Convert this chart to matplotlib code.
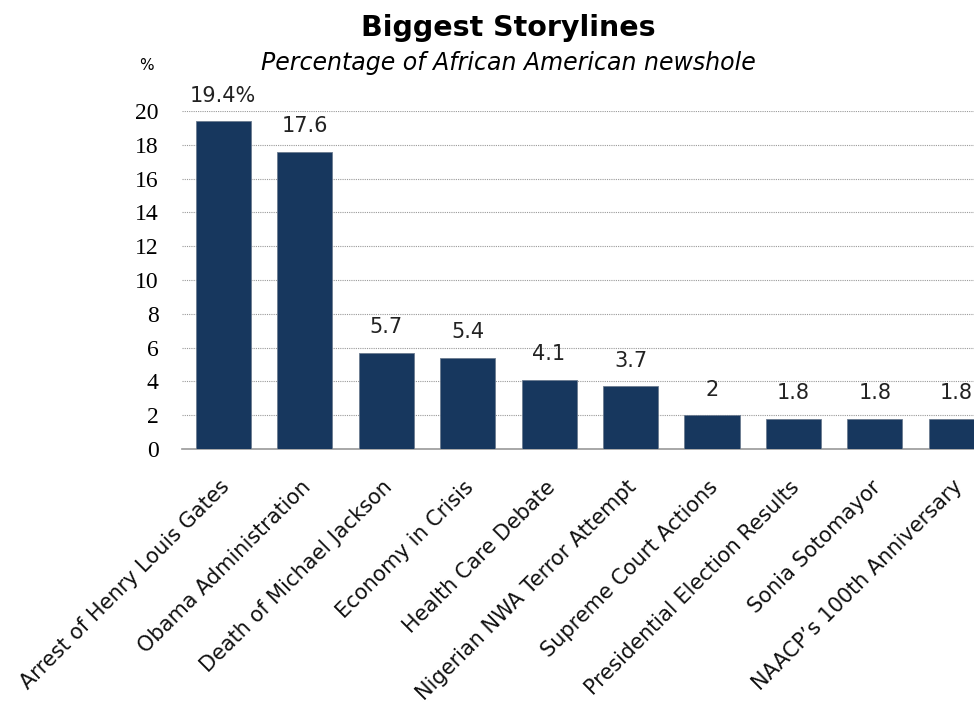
import matplotlib.pyplot as plt
import matplotlib.transforms as mtransforms
import numpy as np

storylines = ["Arrest of Henry Louis Gates", "Obama Administration",
              "Death of Michael Jackson", "Economy in Crisis", "Health Care Debate",
              "Nigerian NWA Terror Attempt", "Supreme Court Actions",
              "Presidential Election Results", "Sonia Sotomayor",
              "NAACP\u2019s 100th Anniversary"]
share = [19.4, 17.6, 5.7, 5.4, 4.1, 3.7, 2.0, 1.8, 1.8, 1.8]
value_labels = ["19.4%", "17.6", "5.7", "5.4", "4.1", "3.7", "2", "1.8", "1.8", "1.8"]
yticks = [0, 2, 4, 6, 8, 10, 12, 14, 16, 18, 20]

fig = plt.figure(figsize=(9.74, 7.09), dpi=100)
ax = fig.add_axes([0.1869, 0.3667, 0.8131, 0.4767])

x = np.arange(len(storylines))
ax.bar(x, share, width=0.675, color="#17375e", edgecolor="#6b7b90", linewidth=0.6, zorder=3)

for xi, v, lab in zip(x, share, value_labels):
    ax.annotate(lab, (xi, v), xytext=(0, 11), textcoords="offset points",
                ha="center", va="bottom", fontsize=15, color="#222222",
                annotation_clip=False)

ax.set_xlim(-0.503, 9.215)
ax.set_ylim(0, 20)
ax.set_yticks(yticks)
ax.yaxis.grid(True, linestyle=(0, (1, 1)), color="#999999", linewidth=0.8, zorder=0)
ax.set_axisbelow(True)
for t in ax.get_yticklabels():
    t.set_fontfamily("Liberation Serif")
    t.set_fontsize(17)
ax.tick_params(axis="y", length=0, pad=17)
ax.tick_params(axis="x", length=0, pad=20)
ax.set_xticks(x)
ax.set_xticklabels(storylines, rotation=45, ha="right", rotation_mode="anchor",
                   fontsize=15, color="#111111")
shift = mtransforms.ScaledTranslation(-4 / 100, 0, fig.dpi_scale_trans)
for t in ax.get_xticklabels():
    t.set_transform(t.get_transform() + shift)
for s in ["top", "right", "left"]:
    ax.spines[s].set_visible(False)
ax.spines["bottom"].set_color("#999999")
ax.spines["bottom"].set_linewidth(1.2)

fig.text(0.522, 0.960, "Biggest Storylines", ha="center", va="center",
         fontsize=20.5, fontweight="bold")
fig.text(0.522, 0.911, "Percentage of African American newshole", ha="center",
         va="center", fontsize=17, style="italic")
fig.text(0.150, 0.907, "%", ha="center", va="center", fontsize=11)

fig.savefig("out.png", dpi=100)
